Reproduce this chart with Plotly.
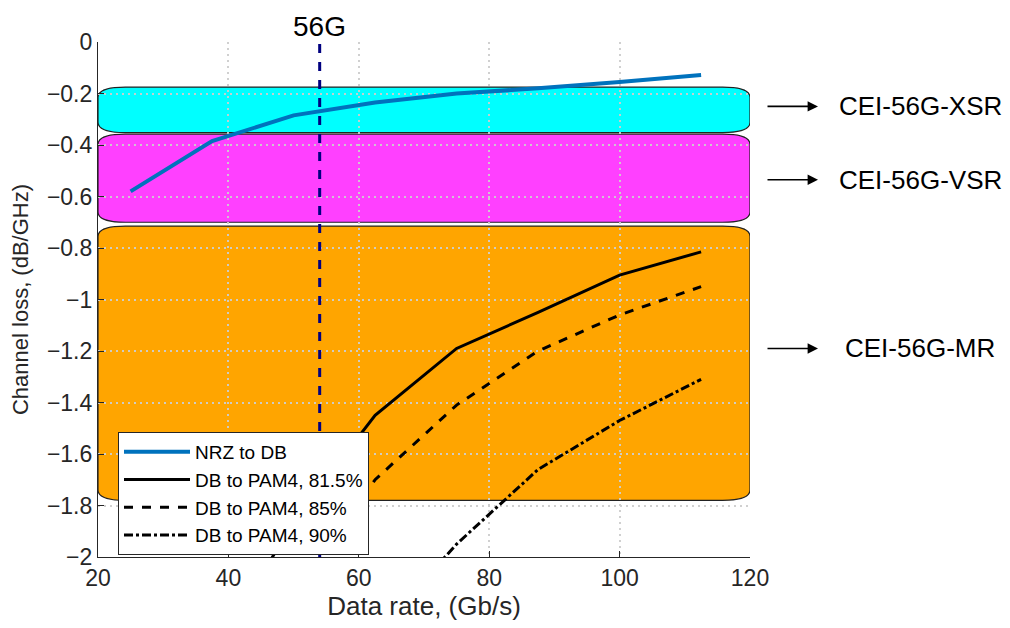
import plotly.graph_objects as go

# ---- data ----
rate = [25, 37.5, 50, 62.5, 75, 87.5, 100, 112.5]
nrz_to_db = [-0.58, -0.385, -0.285, -0.235, -0.20, -0.18, -0.155, -0.128]
rate_pam = [37.5, 50, 62.5, 75, 87.5, 100, 112.5]
pam4_815 = [-2.40, -1.86, -1.45, -1.19, -1.05, -0.905, -0.815]
pam4_85 = [-2.55, -2.12, -1.70, -1.41, -1.20, -1.06, -0.95]
rate_pam90 = [62.5, 75, 87.5, 100, 112.5]
pam4_90 = [-2.30, -1.95, -1.66, -1.47, -1.31]
marker_rate = 54
marker_label = "56G"
bands = [  # (name, top, bottom, color)
    ("CEI-56G-XSR", -0.175, -0.352, "#00FFFF"),
    ("CEI-56G-VSR", -0.358, -0.700, "#FF40FF"),
    ("CEI-56G-MR", -0.715, -1.780, "#FFA500"),
]
band_label_y = [-0.25, -0.535, -1.19]

# page body adds an 8px offset; margins compensate
W, H = 1010, 628
ML, MR, MT, MB = 90, 268, 34, 79
XR = [20, 120]
YR = [-2, 0]
FONT = "Liberation Sans, Arial, sans-serif"

fig = go.Figure()
fig.add_trace(go.Scatter(x=rate, y=nrz_to_db, mode="lines", name="NRZ to DB",
                         line=dict(color="#0072BD", width=4)))
fig.add_trace(go.Scatter(x=rate_pam, y=pam4_815, mode="lines", name="DB to PAM4, 81.5%",
                         line=dict(color="black", width=3)))
fig.add_trace(go.Scatter(x=rate_pam, y=pam4_85, mode="lines", name="DB to PAM4, 85%",
                         line=dict(color="black", width=3, dash="dash")))
fig.add_trace(go.Scatter(x=rate_pam90, y=pam4_90, mode="lines", name="DB to PAM4, 90%",
                         line=dict(color="black", width=3, dash="dashdot")))
fig.add_trace(go.Scatter(x=[marker_rate, marker_rate], y=YR, mode="lines", showlegend=False,
                         line=dict(color="#000080", width=3, dash="dash")))


def rounded(x0, x1, y0, y1, rx, ry):
    # y0 bottom, y1 top
    return (f"M {x0+rx},{y1} L {x1-rx},{y1} Q {x1},{y1} {x1},{y1-ry} "
            f"L {x1},{y0+ry} Q {x1},{y0} {x1-rx},{y0} L {x0+rx},{y0} "
            f"Q {x0},{y0} {x0},{y0+ry} L {x0},{y1-ry} Q {x0},{y1} {x0+rx},{y1} Z")


for (name, top, bot, col) in bands:
    fig.add_shape(type="path", path=rounded(XR[0], XR[1], bot, top, 4.2, 0.04),
                  xref="x", yref="y", fillcolor=col, line=dict(color="#222222", width=1.2),
                  layer="below")

fig.add_annotation(x=marker_rate, y=1.0, xref="x", yref="paper", text=marker_label,
                   showarrow=False, yanchor="bottom", yshift=-2,
                   font=dict(family=FONT, size=28, color="black"))

pw = W - ML - MR
for (name, top, bot, col), ly in zip(bands, band_label_y):
    fig.add_annotation(x=(810 - ML) / pw, y=ly, xref="paper", yref="y", text="",
                       showarrow=True, arrowhead=2, arrowsize=1.3, arrowwidth=1.6, arrowcolor="black",
                       ax=-52, ay=0, axref="pixel", ayref="pixel")
    fig.add_annotation(x=(912 - ML) / pw, y=ly, xref="paper", yref="y", text=name,
                       showarrow=False, xanchor="center",
                       font=dict(family=FONT, size=26, color="black"))

axis_common = dict(showline=True, linecolor="#262626", linewidth=1.2, mirror=False,
                   ticks="inside", ticklen=6, tickcolor="#262626", automargin=False,
                   showgrid=True, gridcolor="rgba(205,205,205,0.95)", griddash="2px,4px", gridwidth=1.5,
                   zeroline=False,
                   tickfont=dict(family=FONT, size=23, color="#262626"))

fig.update_layout(
    width=W, height=H,
    margin=dict(l=ML, r=MR, t=MT, b=MB, autoexpand=False),
    paper_bgcolor="white", plot_bgcolor="white",
    xaxis=dict(range=XR, dtick=20, tick0=20,
               title=dict(text="Data rate, (Gb/s)", standoff=6,
                          font=dict(family=FONT, size=26, color="#262626")),
               **axis_common),
    yaxis=dict(range=YR, dtick=0.2, tick0=0,
               title=dict(text="Channel loss, (dB/GHz)", standoff=12,
                          font=dict(family=FONT, size=22, color="#262626")),
               **axis_common),
    legend=dict(x=(110 - ML) / pw, y=(549 - 424) / (H - MT - MB), xanchor="left", yanchor="top",
                bgcolor="white", bordercolor="#262626", borderwidth=1,
                font=dict(family=FONT, size=19, color="black"),
                tracegroupgap=0, itemwidth=66),
    showlegend=True,
)

fig.write_html("out.html")
